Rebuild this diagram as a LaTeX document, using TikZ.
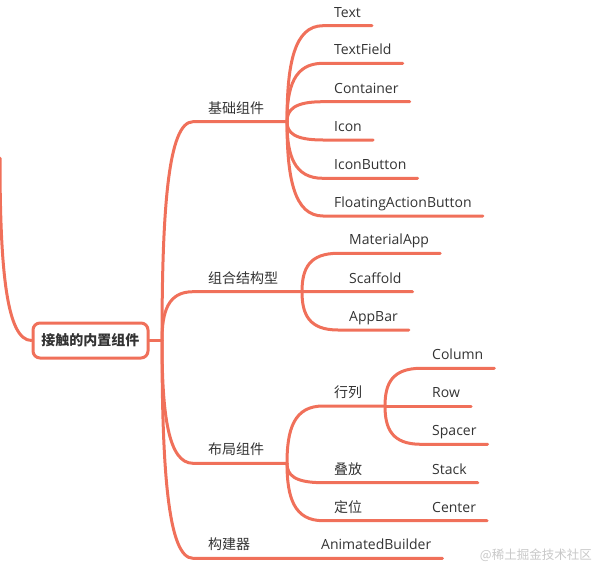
\documentclass[tikz,border=0pt]{standalone}
\usepackage{fontspec}
\setmainfont{Open Sans}
\newfontfamily\cjk{Noto Sans CJK SC}
\usepackage{tikz}
\usetikzlibrary{calc}

\definecolor{linkc}{RGB}{240,112,90}
\definecolor{textc}{RGB}{51,51,51}
\definecolor{markc}{RGB}{200,200,200}

\tikzset{
    link/.style={draw=linkc, line width=3pt, line cap=round},
    twig/.style={to path={.. controls ($(\tikztostart)!0.6!(\tikztostart |- \tikztotarget)$)
        and ($(\tikztostart |- \tikztotarget)!0.2!(\tikztotarget)$) .. (\tikztotarget)}},
    topic/.style={anchor=south west, inner xsep=11pt, inner ysep=5.5pt,
        text height=10.5pt, text depth=3pt, text=textc, font=\fontsize{14}{16}\selectfont},
    cn/.style={topic, font=\cjk\fontsize{14}{16}\selectfont},
    major/.style={cn, inner xsep=15pt},
    rootbox/.style={draw=linkc, line width=3pt, rounded corners=7pt, fill=white,
        minimum width=115pt, minimum height=35pt, text=textc,
        font=\cjk\bfseries\fontsize{14}{16}\selectfont}
}

\begin{document}
\begin{tikzpicture}[x=1pt, y=-1pt]
    \useasboundingbox (0,0) rectangle (598,568);

    % root
    \node[rootbox] (root) at (90.5,340.5) {接触的内置组件};
    \coordinate (up) at (0,158);
    \coordinate (root-h) at (162,340.5);
    \draw[link] (up) to[twig] (root.west);
    \draw[link] (root.east) -- (root-h);

    % main topics
    \node[major] (jc) at (193,121.7) {基础组件};
    \node[major] (zh) at (193,291.7) {组合结构型};
    \node[major] (bj) at (193,463.3) {布局组件};
    \node[major] (gj) at (193,558.3) {构建器};
    \coordinate (jc-h) at (287,121.7);
    \coordinate (zh-h) at (302,291.7);
    \coordinate (bj-h) at (287,463.3);

    % basic widgets
    \node[topic] (txt) at (323,25.7) {Text};
    \node[topic] (tf) at (323,63.3) {TextField};
    \node[topic] (ct) at (323,101.7) {Container};
    \node[topic] (ic) at (323,140) {Icon};
    \node[topic] (ib) at (323,178.3) {IconButton};
    \node[topic] (fab) at (323,216) {FloatingActionButton};

    % structure
    \node[topic] (ma) at (338,253.3) {MaterialApp};
    \node[topic] (sf) at (338,291.7) {Scaffold};
    \node[topic] (ab) at (338,330) {AppBar};

    % layout
    \node[cn] (hl) at (323,406) {行列};
    \node[cn] (df) at (323,482.7) {叠放};
    \node[cn] (dw) at (323,520.7) {定位};
    \coordinate (hl-h) at (385,406);
    \node[topic] (col) at (421,368.3) {Column};
    \node[topic] (row) at (421,406) {Row};
    \node[topic] (sp) at (421,444.3) {Spacer};
    \node[topic] (stack) at (421,482.7) {Stack};
    \node[topic] (center) at (421,520.7) {Center};

    % builder
    \node[topic] (anim) at (310,558.3) {AnimatedBuilder};

    % connectors
    \draw[link] (root-h) to[twig] (jc.south west) -- (jc-h);
    \draw[link] (root-h) to[twig] (zh.south west) -- (zh-h);
    \draw[link] (root-h) to[twig] (bj.south west) -- (bj-h);
    \draw[link] (root-h) to[twig] (gj.south west) -- (anim.south east);

    \foreach \n in {txt,tf,ct,ic,ib,fab}
        \draw[link] (jc-h) to[twig] (\n.south west) -- (\n.south east);
    \foreach \n in {ma,sf,ab}
        \draw[link] (zh-h) to[twig] (\n.south west) -- (\n.south east);
    \draw[link] (bj-h) to[twig] (hl.south west) -- (hl-h);
    \draw[link] (bj-h) to[twig] (df.south west) -- (stack.south east);
    \draw[link] (bj-h) to[twig] (dw.south west) -- (center.south east);
    \foreach \n in {col,row,sp}
        \draw[link] (hl-h) to[twig] (\n.south west) -- (\n.south east);

    % watermark
    \node[anchor=east, text=markc, inner sep=0pt, font=\cjk\fontsize{12.5}{14}\selectfont]
        (mark) at (592,555) {@稀土掘金技术社区};
\end{tikzpicture}
\end{document}
